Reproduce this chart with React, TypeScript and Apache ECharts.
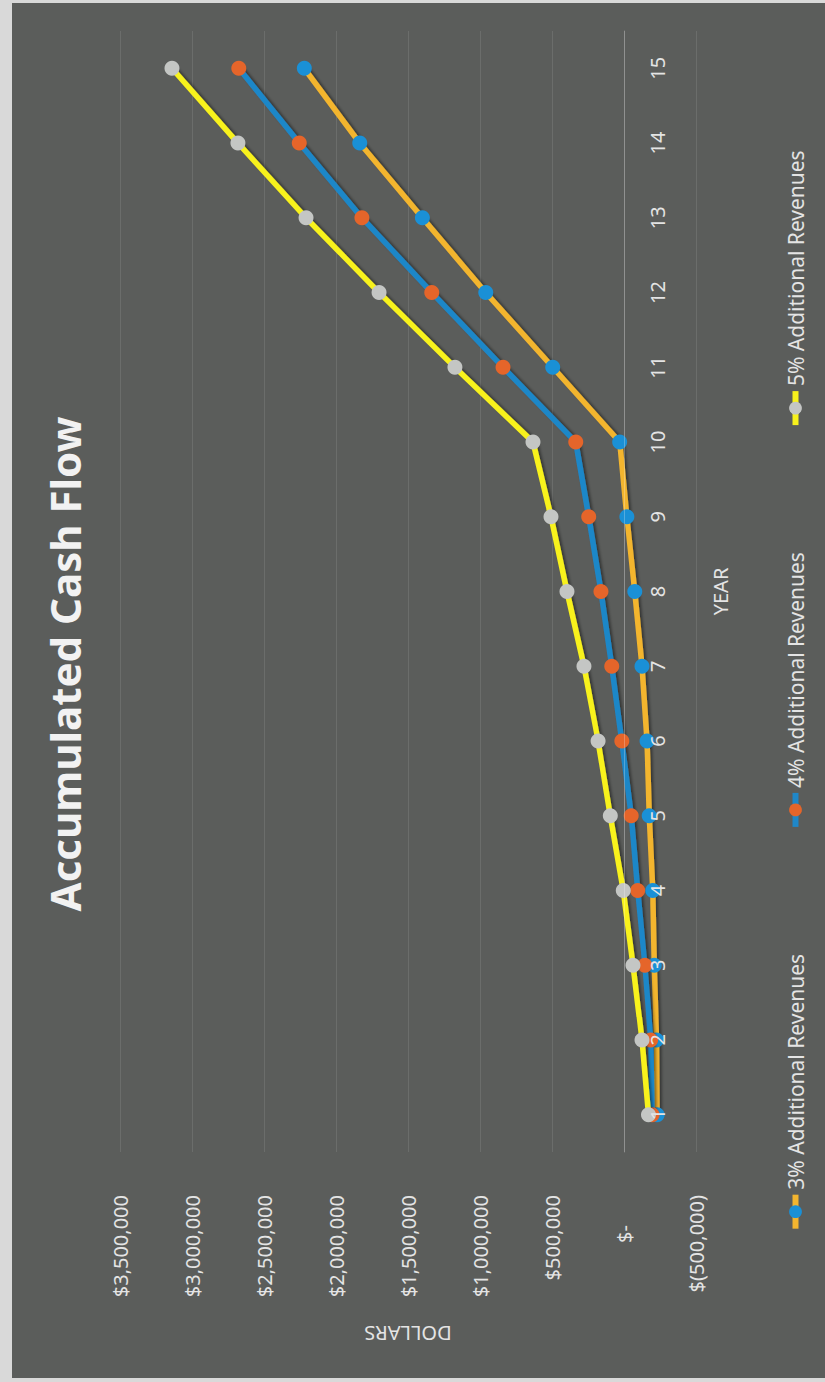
import React, { useEffect, useRef } from "react";
import * as echarts from "echarts";

const years = ["1", "2", "3", "4", "5", "6", "7", "8", "9", "10", "11", "12", "13", "14", "15"];
const seriesNames = ["3% Additional Revenues", "4% Additional Revenues", "5% Additional Revenues"];
const rev3 = [-230000, -225000, -210000, -200000, -175000, -160000, -125000, -75000, -20000, 30000, 495000, 960000, 1400000, 1835000, 2220000];
const rev4 = [-195000, -185000, -145000, -95000, -50000, 15000, 85000, 160000, 245000, 335000, 840000, 1335000, 1820000, 2255000, 2675000];
const rev5 = [-170000, -125000, -62500, 5000, 95000, 180000, 278000, 396000, 507000, 632000, 1174000, 1701000, 2208000, 2681000, 3139000];
const lineColors = ["#f3b52f", "#1f87c8", "#f8f21c"];
const markerColors = ["#1a90d6", "#e5652a", "#c4c6c4"];
const W = 1382;
const H = 825;

function money(v: number): string {
  if (v === 0) return "{z|$-}";
  const s = Math.abs(v).toLocaleString("en-US");
  return v < 0 ? `$(${s})` : `$${s}`;
}

export default function App() {
  const ref = useRef<HTMLDivElement>(null);
  useEffect(() => {
    if (!ref.current) return;
    const chart = echarts.init(ref.current, null, { renderer: "svg", width: W, height: H });
    const font = "'Noto Sans', sans-serif";
    const txt = "#e4e4e4";
    const data = [rev3, rev4, rev5];
    chart.setOption({
      animation: false,
      backgroundColor: "transparent",
      textStyle: { fontFamily: font },
      grid: { left: 230, right: 31, top: 120, bottom: 129 },
      graphic: [
        {
          type: "text",
          x: 718,
          y: 64,
          style: {
            text: "Accumulated Cash Flow",
            fill: "#f2f2f2",
            font: `bold 42px ${font}`,
            textAlign: "center",
            textVerticalAlign: "middle",
          },
        },
      ],
      legend: {
        data: seriesNames,
        top: 780,
        left: "center",
        itemWidth: 34,
        itemHeight: 16,
        itemGap: 124,
        lineStyle: { width: 6 },
        textStyle: { color: txt, fontSize: 21, fontFamily: font },
      },
      xAxis: {
        type: "category",
        data: years,
        boundaryGap: true,
        offset: -72,
        z: 10,
        name: "YEAR",
        nameLocation: "middle",
        nameGap: 86,
        nameTextStyle: { color: txt, fontSize: 20, fontFamily: font },
        axisLine: { onZero: false, lineStyle: { color: "rgba(255,255,255,0.25)", width: 1 } },
        axisTick: { show: false },
        axisLabel: { color: txt, fontSize: 20, margin: 23, fontFamily: font },
        splitLine: { show: false },
      },
      yAxis: {
        type: "value",
        min: -500000,
        max: 3500000,
        interval: 500000,
        name: "DOLLARS",
        nameLocation: "middle",
        nameRotate: 90,
        nameGap: 171,
        nameTextStyle: { color: txt, fontSize: 20, fontFamily: font },
        axisLine: { show: false },
        axisTick: { show: false },
        axisLabel: {
          color: txt,
          fontSize: 20,
          margin: 43,
          fontFamily: font,
          formatter: money,
          rich: { z: { color: txt, fontSize: 20, fontFamily: font, padding: [0, 30, 0, 0] } },
        },
        splitLine: { lineStyle: { color: "rgba(255,255,255,0.1)", width: 1 } },
      },
      series: seriesNames.map((name, i) => ({
        type: "line",
        name,
        data: data[i],
        symbol: "circle",
        symbolSize: 15,
        z: 2 + i,
        lineStyle: {
          color: lineColors[i],
          width: 5.5,
          shadowColor: "rgba(0,0,0,0.45)",
          shadowBlur: 3,
          shadowOffsetY: 2,
        },
        itemStyle: { color: markerColors[i] },
      })),
    });
    return () => chart.dispose();
  }, []);

  return (
    <div
      style={{
        position: "absolute",
        left: 0,
        top: 0,
        width: 825,
        height: 1382,
        overflow: "hidden",
        background: "#d9d9d9",
      }}
    >
      <div
        style={{
          position: "absolute",
          left: 12,
          top: 3,
          width: 813,
          height: 1375,
          background: "#5b5d5b",
        }}
      />
      <div
        ref={ref}
        style={{
          position: "absolute",
          left: 0,
          top: 0,
          width: W,
          height: H,
          transformOrigin: "0 0",
          transform: `translate(0px, ${W}px) rotate(-90deg)`,
        }}
      />
    </div>
  );
}
